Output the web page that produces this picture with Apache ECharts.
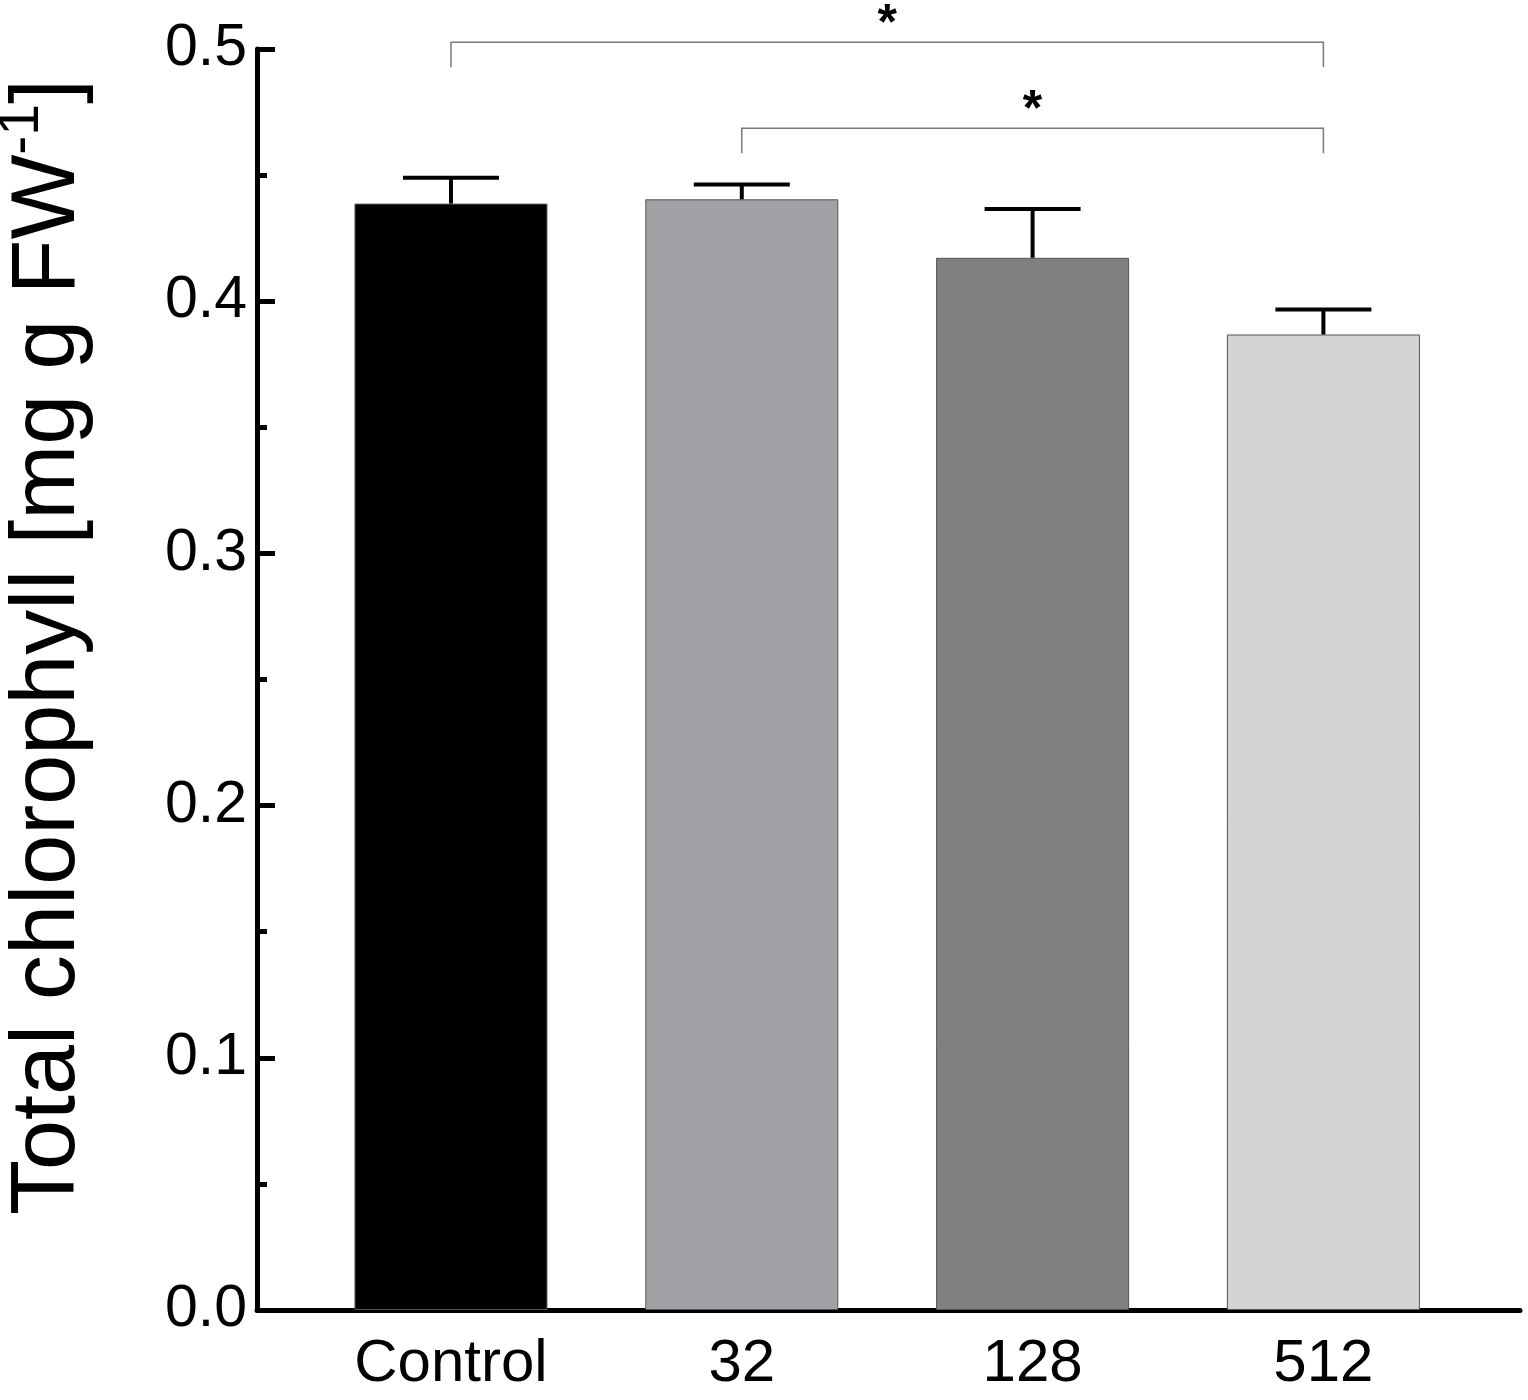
<!DOCTYPE html>
<html>
<head>
<meta charset="utf-8">
<script src="https://cdn.jsdelivr.net/npm/echarts@6/dist/echarts.min.js"></script>
<style>
  html, body { margin: 0; padding: 0; background: #fff; }
  #main { width: 1528px; height: 1400px; }
</style>
</head>
<body>
<div id="main"></div>
<script>
// data
var categories = ['Control', '32', '128', '512'];
var means = [0.4387, 0.4404, 0.4172, 0.3868];
var sems = [0.0102, 0.0059, 0.0194, 0.0099];
var barColors = ['#000000', '#a2a2a6', '#808080', '#d4d4d4'];
// significance brackets: [from, to, top, foot]
var brackets = [[0, 3, 0.5027, 0.4928], [1, 3, 0.4686, 0.4587]];
var stars = ['*', '*'];
var yTicks = [0, 0.1, 0.2, 0.3, 0.4, 0.5];

var FONT = '"Liberation Sans", Arial, sans-serif';
var chart = echarts.init(document.getElementById('main'));

var barData = means.map(function (v, i) {
    return { value: [i, v], itemStyle: { color: barColors[i] } };
});
var errData = means.map(function (v, i) { return [i, v, v + sems[i]]; });

var option = {
    animation: false,
    backgroundColor: '#fff',
    grid: { left: 257, right: 8, top: 49, bottom: 90, containLabel: false },
    xAxis: {
        type: 'value',
        min: -0.667,
        max: 3.676,
        splitLine: { show: false },
        axisLine: { show: true, onZero: false, lineStyle: { color: '#000', width: 5 } },
        axisTick: { show: false },
        axisLabel: {
            customValues: [0, 1, 2, 3],
            formatter: function (v) { return categories[Math.round(v)]; },
            fontFamily: FONT, fontSize: 60, color: '#000', margin: 24
        }
    },
    yAxis: {
        type: 'value',
        min: 0,
        max: 0.5,
        interval: 0.1,
        splitLine: { show: false },
        axisLine: { show: true, onZero: false, lineStyle: { color: '#000', width: 5 } },
        axisTick: { show: true, inside: true, length: 18, lineStyle: { color: '#000', width: 5 } },
        minorTick: { show: true, splitNumber: 2, length: 10, lineStyle: { color: '#000', width: 5 } },
        axisLabel: {
            customValues: yTicks,
            formatter: function (v) { return v.toFixed(1); },
            fontFamily: FONT, fontSize: 59, color: '#000', margin: 10
        }
    },
    graphic: [{
        type: 'text',
        x: 44,
        y: 647,
        rotation: Math.PI / 2,
        style: {
            text: '{a|Total chlorophyll [mg g FW}{s|-1}{a|]}',
            align: 'center',
            verticalAlign: 'middle',
            fill: '#000',
            rich: {
                a: { fontFamily: FONT, fontSize: 90, lineHeight: 100, verticalAlign: 'bottom' },
                s: { fontFamily: FONT, fontSize: 57, lineHeight: 57, verticalAlign: 'top' }
            }
        }
    }],
    series: [{
        type: 'bar',
        data: barData,
        barWidth: 193,
        itemStyle: { borderColor: '#555', borderWidth: 1 },
        z: 2
    }, {
        type: 'custom',
        data: errData,
        z: 3,
        renderItem: function (params, api) {
            var base = api.coord([api.value(0), api.value(1)]);
            var top = api.coord([api.value(0), api.value(2)]);
            var half = 48;
            var st = { stroke: '#000', lineWidth: 4 };
            return {
                type: 'group',
                children: [
                    { type: 'line', shape: { x1: base[0], y1: base[1], x2: top[0], y2: top[1] }, style: st },
                    { type: 'line', shape: { x1: top[0] - half, y1: top[1], x2: top[0] + half, y2: top[1] }, style: st }
                ]
            };
        }
    }, {
        type: 'custom',
        data: brackets,
        clip: false,
        z: 3,
        renderItem: function (params, api) {
            var a = api.coord([api.value(0), api.value(2)]);
            var b = api.coord([api.value(1), api.value(2)]);
            var foot = api.coord([api.value(0), api.value(3)])[1];
            var st = { stroke: '#7a7a7a', lineWidth: 1.5, fill: null };
            return {
                type: 'group',
                children: [
                    { type: 'polyline', shape: { points: [[a[0], foot], a, b, [b[0], foot]] }, style: st },
                    {
                        type: 'text',
                        x: (a[0] + b[0]) / 2,
                        y: a[1] + 8,
                        style: {
                            text: stars[params.dataIndex],
                            font: 'bold 50px ' + FONT,
                            fill: '#000',
                            align: 'center',
                            verticalAlign: 'bottom'
                        }
                    }
                ]
            };
        }
    }]
};

chart.setOption(option);
</script>
</body>
</html>
